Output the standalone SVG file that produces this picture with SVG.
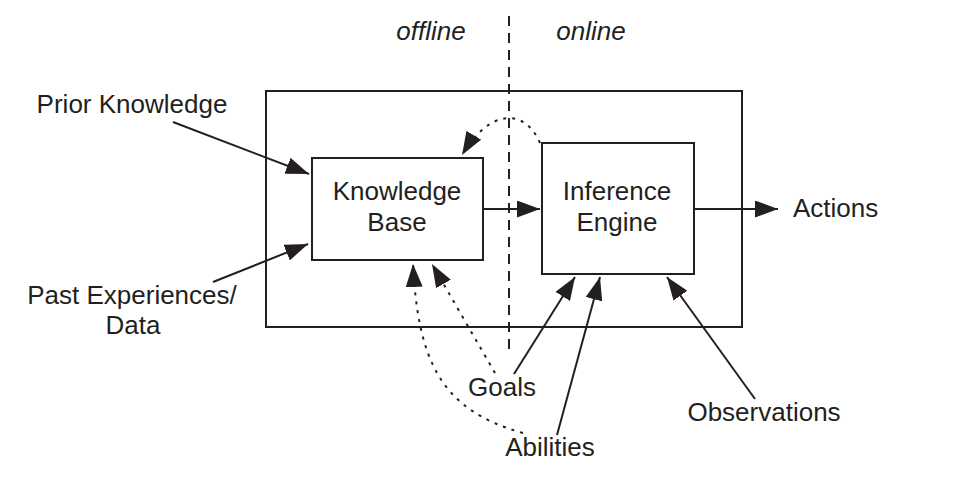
<svg xmlns="http://www.w3.org/2000/svg" width="969" height="488" viewBox="0 0 969 488">
<style>
text{font-family:"Liberation Sans",Arial,sans-serif;font-size:26px;fill:#231f20}
.it{font-style:italic}
.box{fill:#fff;stroke:#231f20;stroke-width:2}
.frame{fill:none;stroke:#231f20;stroke-width:2}
.ln{fill:none;stroke:#231f20;stroke-width:2}
.dot{fill:none;stroke:#231f20;stroke-width:2;stroke-dasharray:3 6}
.dash{fill:none;stroke:#231f20;stroke-width:2;stroke-dasharray:10 7}
</style>
<defs>
<marker id="ah" markerUnits="userSpaceOnUse" markerWidth="23" markerHeight="17" refX="23" refY="8.5" orient="auto">
<path d="M0,0 L23,8.5 L0,17 z" fill="#231f20"/>
</marker>
</defs>
<rect width="969" height="488" fill="#fff"/>
<g id="frame"><rect class="frame" x="266" y="91" width="476" height="236"/></g>
<g id="divider">
<line class="dash" x1="509" y1="16" x2="509" y2="356"/>
<text class="it" x="431" y="40" text-anchor="middle">offline</text>
<text class="it" x="591" y="40" text-anchor="middle">online</text>
</g>
<g id="kb">
<rect class="box" x="312" y="158" width="171" height="102"/>
<text x="397" y="200" text-anchor="middle">Knowledge</text>
<text x="397" y="231" text-anchor="middle">Base</text>
</g>
<g id="ie">
<rect class="box" x="542" y="143" width="152" height="131"/>
<text x="617" y="200" text-anchor="middle">Inference</text>
<text x="617" y="231" text-anchor="middle">Engine</text>
</g>
<g id="prior"><text x="132" y="113" text-anchor="middle">Prior Knowledge</text></g>
<g id="past">
<text x="132" y="304" text-anchor="middle">Past Experiences/</text>
<text x="133" y="334" text-anchor="middle">Data</text>
</g>
<g id="actions"><text x="793" y="217">Actions</text></g>
<g id="goals"><text x="502" y="396" text-anchor="middle">Goals</text></g>
<g id="abilities"><text x="550" y="456" text-anchor="middle">Abilities</text></g>
<g id="observations"><text x="764" y="421" text-anchor="middle">Observations</text></g>
<g id="connectors">
<line class="ln" x1="173" y1="122" x2="309" y2="174" marker-end="url(#ah)"/>
<line class="ln" x1="213" y1="282" x2="308" y2="244" marker-end="url(#ah)"/>
<line class="ln" x1="483" y1="209" x2="540" y2="209" marker-end="url(#ah)"/>
<line class="ln" x1="694" y1="209" x2="778" y2="209" marker-end="url(#ah)"/>
<line class="ln" x1="514" y1="374" x2="575" y2="277" marker-end="url(#ah)"/>
<line class="ln" x1="557" y1="435" x2="600" y2="277" marker-end="url(#ah)"/>
<line class="ln" x1="755" y1="399" x2="667" y2="277" marker-end="url(#ah)"/>
<line class="dot" x1="495" y1="373" x2="432" y2="264" marker-end="url(#ah)"/>
<path class="dot" d="M523,433 C440,410 418,360 413,264" marker-end="url(#ah)"/>
<path class="dot" d="M540,143 C525,108 490,108 462,155" marker-end="url(#ah)"/>
</g>
</svg>
